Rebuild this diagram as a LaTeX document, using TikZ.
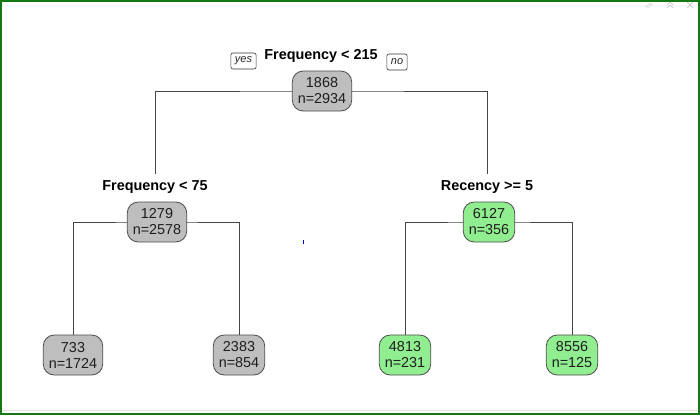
\documentclass[tikz,border=0pt]{standalone}
\usepackage{fontspec}
\setmainfont{Liberation Sans}
\definecolor{framegreen}{RGB}{20,120,20}
\definecolor{boxgray}{RGB}{190,190,190}
\definecolor{boxgreen}{RGB}{144,238,144}
\definecolor{branchcol}{RGB}{70,70,70}
\definecolor{txtcol}{RGB}{30,30,30}
\tikzset{
  treebox/.style={rounded corners=11pt, draw=black!70, line width=0.8pt, align=center,
    font=\fontsize{14.4}{16}\selectfont, text=txtcol, inner xsep=5.5pt, inner ysep=2pt,
    minimum height=40pt},
  graybox/.style={treebox, fill=boxgray},
  greenbox/.style={treebox, fill=boxgreen},
  splitlabel/.style={font=\bfseries\fontsize{14.4}{16}\selectfont, text=black, inner sep=0pt},
  yesno/.style={draw=black!80, line width=0.6pt, rounded corners=2pt, font=\itshape\fontsize{11}{12}\selectfont,
    inner xsep=4pt, inner ysep=0pt, minimum height=16pt, text=black!85},
  branch/.style={draw=branchcol, line width=1pt},
}
\begin{document}
\begin{tikzpicture}[x=1pt,y=-1pt]
\useasboundingbox (0,0) rectangle (700,415);
\fill[white] (0,0) rectangle (700,415);
\draw[gray!20, line width=0.8pt] (3,410) -- (697,410);
% window icons
\draw[gray!35, line width=0.6pt] (645,7) -- (651,3) (647,8) -- (653,4);
\draw[gray!45, line width=0.7pt] (667,5) -- (670,2) -- (673,5) (667,8) -- (670,5) -- (673,8);
\draw[gray!45, line width=0.7pt] (687,2) -- (693,8) (693,2) -- (687,8);
% frame
\draw[framegreen, line width=2pt] (1,1) rectangle (699,414);

% coordinates for free ends and branch junctions
\coordinate (Ltop) at (155,174);
\coordinate (Rtop) at (487,174);
\coordinate (rootline) at (322,91);
\coordinate (Lline) at (157,222);
\coordinate (Rline) at (489,222);

% root branches (drawn under the boxes)
\draw[branch] (Ltop) |- (rootline) -| (Rtop);

% leaves
\node[graybox] (l1) at (73,355) {733\\n=1724};
\node[graybox] (l2) at (239,355) {2383\\n=854};
\node[greenbox] (r1) at (405,355) {4813\\n=231};
\node[greenbox] (r2) at (572,355) {8556\\n=125};

\draw[branch] (l1.north) |- (Lline) -| (l2.north);
\draw[branch] (r1.north) |- (Rline) -| (r2.north);

% split nodes
\node[graybox] (root) at (rootline) {1868\\n=2934};
\node[splitlabel] (rootlab) at (321,56) {Frequency < 215};
\node[yesno] (yes) at (243.5,61) {yes};
\node[yesno] (no) at (397,62) {no};

\node[splitlabel] (Llab) at (155,187) {Frequency < 75};
\node[splitlabel] (Rlab) at (487,187) {Recency >= 5};
\node[graybox] (L) at (Lline) {1279\\n=2578};
\node[greenbox] (R) at (Rline) {6127\\n=356};

% stray mark
\fill[blue!80!black] (302.5,240) rectangle (303.8,243.5);
\end{tikzpicture}
\end{document}
